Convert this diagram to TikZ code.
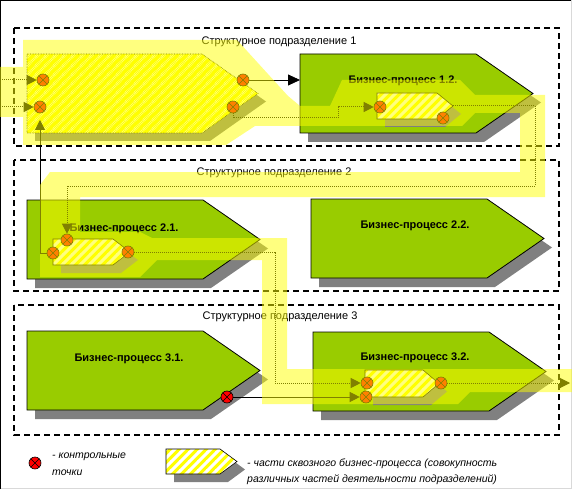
\documentclass[tikz,border=0pt]{standalone}
\usepackage{fontspec}
\setmainfont{Liberation Sans}
\usetikzlibrary{arrows.meta,patterns}

\definecolor{procgreen}{RGB}{153,204,0}
\definecolor{shadowgray}{RGB}{128,128,128}
\definecolor{hatchyellow}{RGB}{255,255,0}
\definecolor{bandyellow}{RGB}{255,255,0}
\definecolor{ctrlred}{RGB}{255,0,0}

\pgfdeclarepatternformonly{hatchlines}{\pgfqpoint{-1pt}{-1pt}}{\pgfqpoint{10pt}{10pt}}{\pgfqpoint{9pt}{9pt}}{%
  \pgfsetlinewidth{3pt}%
  \pgfpathmoveto{\pgfqpoint{-1pt}{-1pt}}%
  \pgfpathlineto{\pgfqpoint{10pt}{10pt}}%
  \pgfusepath{stroke}}

\tikzset{
  lanebox/.style={draw=black, line width=1.6pt, dash pattern=on 6pt off 4pt},
  lanetitle/.style={font=\fontsize{11}{13}\selectfont, inner sep=0pt},
  proclabel/.style={font=\bfseries\fontsize{11}{13}\selectfont, inner sep=0pt},
  legendtext/.style={font=\itshape\fontsize{10.5}{16.5}\selectfont, align=left, inner sep=0pt, anchor=west},
  ctrlpt/.style={circle, draw=black, fill=ctrlred, line width=0.6pt, inner sep=0pt, minimum size=12pt,
    path picture={\draw[line width=0.5pt] (path picture bounding box.north west) -- (path picture bounding box.south east)
      (path picture bounding box.north east) -- (path picture bounding box.south west);}},
  flowline/.style={line width=1pt, densely dotted},
  linkline/.style={line width=0.8pt},
  flowtip/.style={-{Triangle[length=10pt,width=10pt]}},
  pics/procbox/.style={code={
    \fill[shadowgray] (8,9) -- (184,9) -- (241,48.5) -- (184,88) -- (8,88) -- cycle;
    \filldraw[fill=procgreen, draw=black, line width=0.8pt] (0,0) -- (176,0) -- (233,39.5) -- (176,79) -- (0,79) -- cycle;
  }},
  pics/partbox/.style n args={4}{code={
    \fill[shadowgray] (8,8) -- ({8+#1-#3},8) -- ({8+#1},{8+#2/2}) -- ({8+#1-#3},{8+#2}) -- (8,{8+#2}) -- cycle;
    \path[preaction={fill=hatchyellow}, pattern=hatchlines, pattern color=white, draw=black, line width=0.6pt, #4]
      (0,0) -- ({#1-#3},0) -- (#1,{#2/2}) -- ({#1-#3},#2) -- (0,#2) -- cycle;
  }}
}

\begin{document}
\begin{tikzpicture}[x=1pt, y=-1pt]
\useasboundingbox (0,0) rectangle (572,489);
% frame
\draw[black, line width=1pt] (0.5,489) -- (0.5,0.5) -- (572,0.5);
\draw[black!15, line width=1pt] (0.5,488.5) -- (571.5,488.5) -- (571.5,0.5);

% subdivisions
\draw[lanebox] (14,28) rectangle (559,146);
\draw[lanebox] (14,160) rectangle (559,291);
\draw[lanebox] (14,305) rectangle (559,435);
\node[lanetitle] (lane1) at (279,42) {Структурное подразделение 1};
\node[lanetitle] (lane2) at (274,173) {Структурное подразделение 2};
\node[lanetitle] (lane3) at (280,317) {Структурное подразделение 3};

% business processes
\pic at (27,54) {partbox={231}{79}{56}{densely dotted}};
\pic at (300,54) {procbox};
\pic at (27,200) {procbox};
\pic at (311,199) {procbox};
\pic at (27,331) {procbox};
\pic at (313,332) {procbox};
\node[proclabel] (bp12) at (403,81) {Бизнес-процесс 1.2.};
\node[proclabel] (bp21) at (124,229) {Бизнес-процесс 2.1.};
\node[proclabel] (bp22) at (415,226) {Бизнес-процесс 2.2.};
\node[proclabel] (bp31) at (129,359) {Бизнес-процесс 3.1.};
\node[proclabel] (bp32) at (415,358) {Бизнес-процесс 3.2.};

% parts of the end-to-end process
\pic at (377,93) {partbox={76}{26}{16}{solid}};
\pic at (53,239) {partbox={77}{26}{17}{solid}};
\pic at (365,370) {partbox={74}{27}{16}{solid}};

% control points
\node[ctrlpt] (cpin1) at (43,80) {};
\node[ctrlpt] (cpin2) at (40,107) {};
\node[ctrlpt] (cpout1) at (243,80) {};
\node[ctrlpt] (cpout2) at (233,107) {};
\node[ctrlpt] (cp12in) at (380,107) {};
\node[ctrlpt] (cp12out) at (443,118) {};
\node[ctrlpt] (cp21in) at (67,240) {};
\node[ctrlpt] (cp21back) at (53,253) {};
\node[ctrlpt] (cp21out) at (128,252) {};
\node[ctrlpt] (cp32in1) at (367,383) {};
\node[ctrlpt] (cp32in2) at (366,397) {};
\node[ctrlpt] (cp32out) at (441,383) {};
\node[ctrlpt] (cp31out) at (227,397) {};

\coordinate (in1) at (0,80);
\coordinate (in2) at (0,107);
\coordinate (bp12in) at (300,80);
\coordinate (bp11up) at (40,120);
\coordinate (s12tip) at (453,106);
\coordinate (out3) at (570,383);

% connectors
\draw[flowline, flowtip] (in1) -- (cpin1);
\draw[flowline, flowtip] (in2) -- (cpin2);
\draw[linkline, -{Triangle[length=12pt,width=11pt]}] (cpout1) -- (bp12in);
\draw[flowline, flowtip] (cpout2) |- (338,118) |- (cp12in);
\draw[flowline, flowtip] (s12tip) -- (535,106) -- (535,186) -| (cp21in);
\draw[linkline, flowtip] (cp21back) -| (bp11up);
\draw[flowline, flowtip] (cp21out) -- (275,252) |- (cp32in1);
\draw[linkline, flowtip] (cp31out) -- (cp32in2);
\draw[flowline, flowtip] (cp32out) -- (out3);

% legend
\node[ctrlpt] (legcp) at (35,463) {};
\node[legendtext] (legcptext) at (52,464) {- контрольные\\точки};
\pic at (166,449) {partbox={71}{25}{17}{solid}};
\node[legendtext] (legparttext) at (247,471.5) {- части сквозного бизнес-процесса (совокупность\\различных частей деятельности подразделений)};

% end-to-end process band
\fill[bandyellow, fill opacity=0.5] (0,67) -- (23,67) -- (23,40) -- (237,40) -- (288,96) -- (300,106)
  -- (330,106) -- (342,80) -- (460,80) -- (475,95) -- (545,95) -- (545,197) -- (80,197) -- (80,232)
  -- (140,232) -- (152,238) -- (287,238) -- (287,369) -- (572,369) -- (572,392) -- (470,392)
  -- (458,404) -- (262,404) -- (262,260) -- (157,260) -- (140,277) -- (40,277) -- (40,185)
  -- (50,172) -- (520,172) -- (520,113) -- (475,113) -- (462,126) -- (255,126) -- (226,145)
  -- (23,145) -- (23,117) -- (0,117) -- cycle;
\end{tikzpicture}
\end{document}
